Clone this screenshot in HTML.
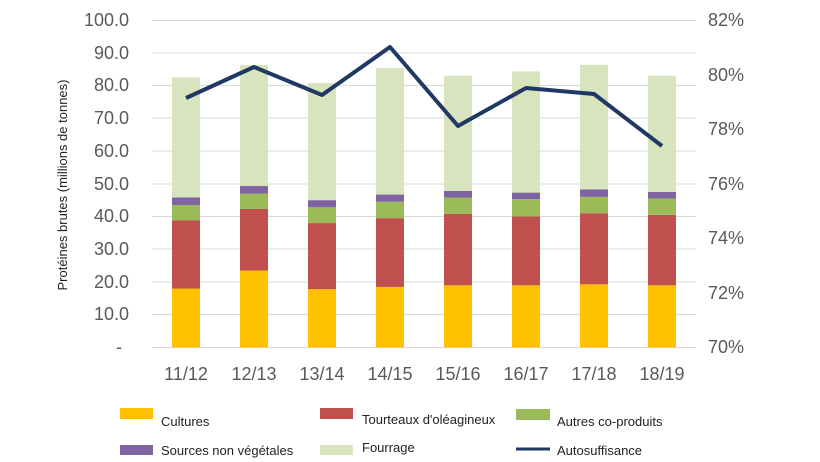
<!DOCTYPE html>
<html><head><meta charset="utf-8"><style>
html,body{margin:0;padding:0;background:#fff}
svg{display:block;font-family:"Liberation Sans",Arial,sans-serif}
.t{fill:#595959;font-size:18px}
.l{fill:#222;font-size:13px}
</style></head><body>
<svg width="820" height="462" viewBox="0 0 820 462">
<rect width="820" height="462" fill="#fff"/>
<g stroke="#d9d9d9" stroke-width="1">
<line x1="152" x2="696" y1="20.5" y2="20.5"/><line x1="152" x2="696" y1="53" y2="53"/>
<line x1="152" x2="696" y1="85.5" y2="85.5"/><line x1="152" x2="696" y1="118" y2="118"/>
<line x1="152" x2="696" y1="151" y2="151"/><line x1="152" x2="696" y1="184" y2="184"/>
<line x1="152" x2="696" y1="216.5" y2="216.5"/><line x1="152" x2="696" y1="249" y2="249"/>
<line x1="152" x2="696" y1="282" y2="282"/><line x1="152" x2="696" y1="314.5" y2="314.5"/>
<line x1="152" x2="696" y1="347.5" y2="347.5"/>
</g>
<g id="bars">
<rect x="172" y="288.55" width="28" height="58.95" fill="#ffc000"/>
<rect x="172" y="220.43" width="28" height="68.12" fill="#c0504d"/>
<rect x="172" y="205.04" width="28" height="15.39" fill="#9bbb59"/>
<rect x="172" y="197.51" width="28" height="7.53" fill="#8064a2"/>
<rect x="172" y="77.31" width="28" height="120.2" fill="#d7e4bd"/>
<rect x="240" y="270.54" width="28" height="76.96" fill="#ffc000"/>
<rect x="240" y="208.97" width="28" height="61.57" fill="#c0504d"/>
<rect x="240" y="193.58" width="28" height="15.39" fill="#9bbb59"/>
<rect x="240" y="186.04" width="28" height="7.54" fill="#8064a2"/>
<rect x="240" y="64.87" width="28" height="121.17" fill="#d7e4bd"/>
<rect x="308" y="289.21" width="28" height="58.29" fill="#ffc000"/>
<rect x="308" y="223.05" width="28" height="66.16" fill="#c0504d"/>
<rect x="308" y="207.33" width="28" height="15.72" fill="#9bbb59"/>
<rect x="308" y="200.13" width="28" height="7.2" fill="#8064a2"/>
<rect x="308" y="82.88" width="28" height="117.25" fill="#d7e4bd"/>
<rect x="376" y="286.91" width="28" height="60.59" fill="#ffc000"/>
<rect x="376" y="218.14" width="28" height="68.77" fill="#c0504d"/>
<rect x="376" y="201.76" width="28" height="16.38" fill="#9bbb59"/>
<rect x="376" y="194.56" width="28" height="7.2" fill="#8064a2"/>
<rect x="376" y="68.14" width="28" height="126.42" fill="#d7e4bd"/>
<rect x="444" y="285.28" width="28" height="62.22" fill="#ffc000"/>
<rect x="444" y="213.88" width="28" height="71.4" fill="#c0504d"/>
<rect x="444" y="197.51" width="28" height="16.37" fill="#9bbb59"/>
<rect x="444" y="190.96" width="28" height="6.55" fill="#8064a2"/>
<rect x="444" y="75.68" width="28" height="115.28" fill="#d7e4bd"/>
<rect x="512" y="285.28" width="28" height="62.22" fill="#ffc000"/>
<rect x="512" y="216.5" width="28" height="68.78" fill="#c0504d"/>
<rect x="512" y="199.14" width="28" height="17.36" fill="#9bbb59"/>
<rect x="512" y="192.59" width="28" height="6.55" fill="#8064a2"/>
<rect x="512" y="71.42" width="28" height="121.17" fill="#d7e4bd"/>
<rect x="580" y="284.29" width="28" height="63.21" fill="#ffc000"/>
<rect x="580" y="213.23" width="28" height="71.06" fill="#c0504d"/>
<rect x="580" y="196.85" width="28" height="16.38" fill="#9bbb59"/>
<rect x="580" y="189.32" width="28" height="7.53" fill="#8064a2"/>
<rect x="580" y="64.87" width="28" height="124.45" fill="#d7e4bd"/>
<rect x="648" y="285.28" width="28" height="62.22" fill="#ffc000"/>
<rect x="648" y="214.86" width="28" height="70.42" fill="#c0504d"/>
<rect x="648" y="198.49" width="28" height="16.37" fill="#9bbb59"/>
<rect x="648" y="191.94" width="28" height="6.55" fill="#8064a2"/>
<rect x="648" y="75.68" width="28" height="116.26" fill="#d7e4bd"/>
</g>
<polyline fill="none" stroke="#1f3864" stroke-width="4" stroke-linejoin="round" points="186,98 254,67 322,95 390,47 458,126 526,88 594,94 662,146"/>
<g class="t" text-anchor="end">
<text x="129" y="26">100.0</text><text x="129" y="59">90.0</text><text x="129" y="91">80.0</text>
<text x="129" y="124">70.0</text><text x="129" y="157">60.0</text><text x="129" y="190">50.0</text>
<text x="129" y="222">40.0</text><text x="129" y="255">30.0</text><text x="129" y="288">20.0</text>
<text x="129" y="320">10.0</text><text x="122" y="353">-</text>
</g>
<g class="t">
<text x="708" y="26">82%</text><text x="708" y="81">80%</text><text x="708" y="135">78%</text>
<text x="708" y="190">76%</text><text x="708" y="244">74%</text><text x="708" y="299">72%</text>
<text x="708" y="353">70%</text>
</g>
<g class="t" text-anchor="middle">
<text x="186" y="380">11/12</text><text x="254" y="380">12/13</text><text x="322" y="380">13/14</text>
<text x="390" y="380">14/15</text><text x="458" y="380">15/16</text><text x="526" y="380">16/17</text>
<text x="594" y="380">17/18</text><text x="662" y="380">18/19</text>
</g>
<text transform="translate(67,185) rotate(-90)" text-anchor="middle" fill="#222" font-size="13">Protéines brutes (millions de tonnes)</text>
<rect x="120" y="408" width="33" height="11" fill="#ffc000"/><text class="l" x="161" y="426">Cultures</text>
<rect x="320" y="408" width="33" height="11" fill="#c0504d"/><text class="l" x="362" y="424">Tourteaux d'oléagineux</text>
<rect x="516" y="409" width="34" height="11" fill="#9bbb59"/><text class="l" x="557" y="426">Autres co-produits</text>
<rect x="120" y="445" width="33" height="10" fill="#8064a2"/><text class="l" x="161" y="455">Sources non végétales</text>
<rect x="320" y="445" width="33" height="10" fill="#d7e4bd"/><text class="l" x="362" y="452">Fourrage</text>
<line x1="516" x2="550" y1="449" y2="449" stroke="#1f3864" stroke-width="3"/><text class="l" x="557" y="455">Autosuffisance</text>
</svg>
</body></html>
